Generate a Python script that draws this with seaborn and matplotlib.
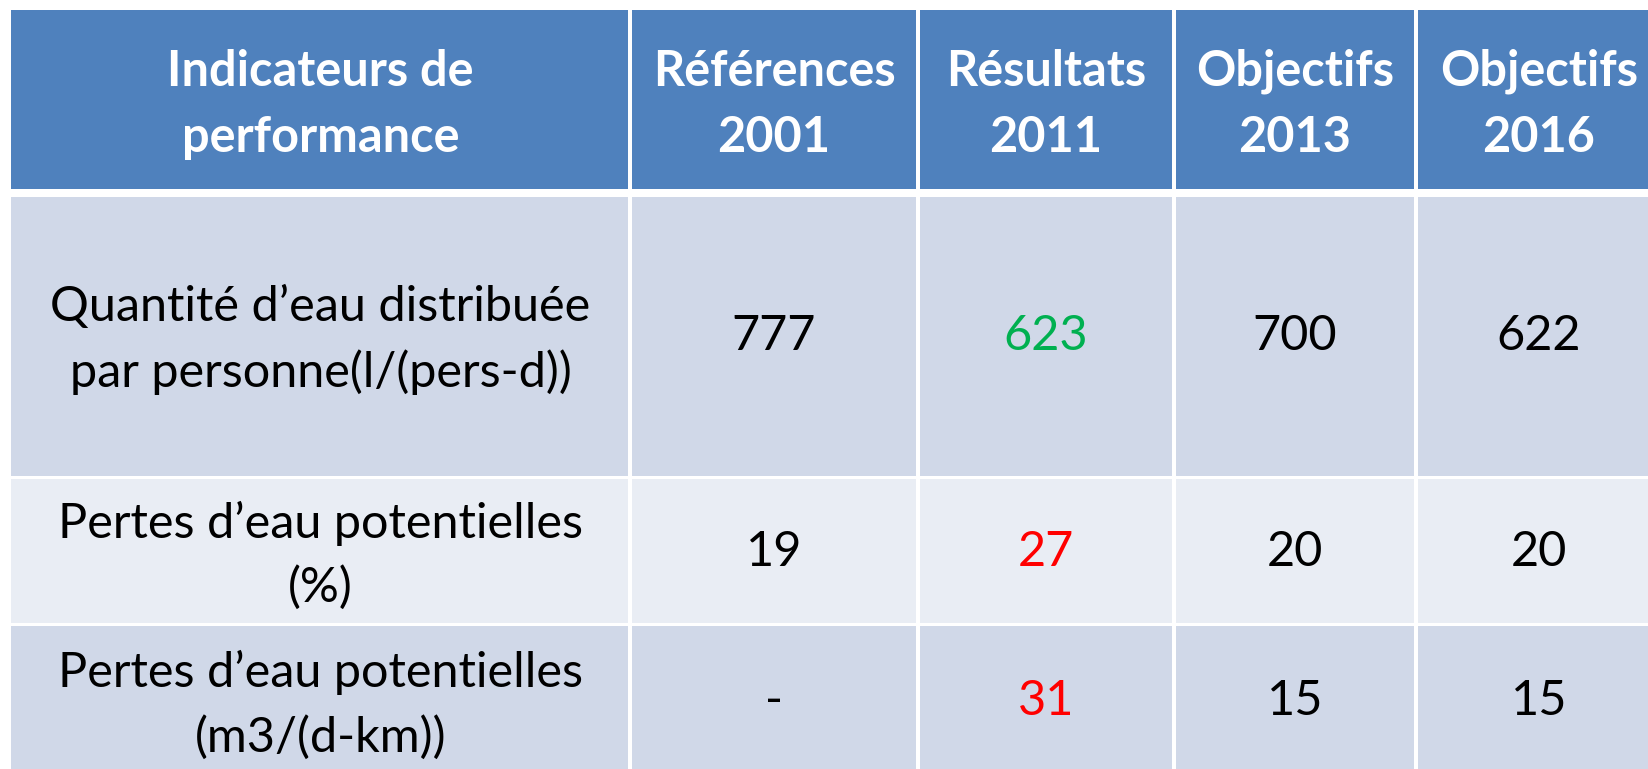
import matplotlib.pyplot as plt
import matplotlib.patches as mpatches
import seaborn as sns

# table content
headers = ["Indicateurs de\nperformance", "Références\n2001", "Résultats\n2011",
           "Objectifs\n2013", "Objectifs\n2016"]
indicators = ["Quantité d’eau distribuée\npar personne(l/(pers-d))",
              "Pertes d’eau potentielles\n(%)",
              "Pertes d’eau potentielles\n(m3/(d-km))"]
ref_2001 = ["777", "19", "-"]
res_2011 = ["623", "27", "31"]
obj_2013 = ["700", "20", "15"]
obj_2016 = ["622", "20", "15"]
res_colors = ["#00B050", "#FF0000", "#FF0000"]

# layout (pixels)
W, H = 1648, 769
col_edges = [11, 630, 918, 1174, 1416, 1662]
row_edges = [10, 193, 477.5, 624.5, 776]
header_color = "#4F81BD"
row_colors = ["#D0D8E8", "#E9EDF4", "#D0D8E8"]

sns.set_theme(style="white")
plt.rcParams['font.family'] = ['Lato', 'DejaVu Sans']

fig = plt.figure(figsize=(W / 100, H / 100), dpi=100)
ax = fig.add_axes([0, 0, 1, 1])
ax.set_xlim(0, W)
ax.set_ylim(H, 0)
ax.axis('off')

vgap = 1.6  # half width of white separators

def cell(c, r, color):
    x0 = col_edges[c] + (vgap if c > 0 else 0)
    x1 = col_edges[c + 1] - vgap
    top_gap = 0 if r == 0 else (4 if r == 1 else vgap)
    bot_gap = 4 if r == 0 else vgap
    y0 = row_edges[r] + top_gap
    y1 = row_edges[r + 1] - bot_gap
    ax.add_patch(mpatches.Rectangle((x0, y0), x1 - x0, y1 - y0,
                                    facecolor=color, edgecolor='none'))

def center(c, r):
    return (col_edges[c] + col_edges[c + 1]) / 2, (row_edges[r] + row_edges[r + 1]) / 2

# header row
for c, txt in enumerate(headers):
    cell(c, 0, header_color)
    x, y = center(c, 0)
    ax.text(x, y + 3, txt, ha='center', va='center', color='white',
            fontsize=35, fontweight='bold', linespacing=1.57)

# body rows
columns = [ref_2001, res_2011, obj_2013, obj_2016]
for r in range(3):
    for c in range(5):
        cell(c, r + 1, row_colors[r])
    x, y = center(0, r + 1)
    ax.text(x, y + 4.5, indicators[r], ha='center', va='center', color='black',
            fontsize=35, linespacing=1.53)
    for j, col in enumerate(columns):
        x, y = center(j + 1, r + 1)
        color = res_colors[r] if j == 1 else 'black'
        ax.text(x, y + 1, col[r], ha='center', va='center', color=color, fontsize=35)

fig.savefig("out.png", dpi=100, facecolor='white')
